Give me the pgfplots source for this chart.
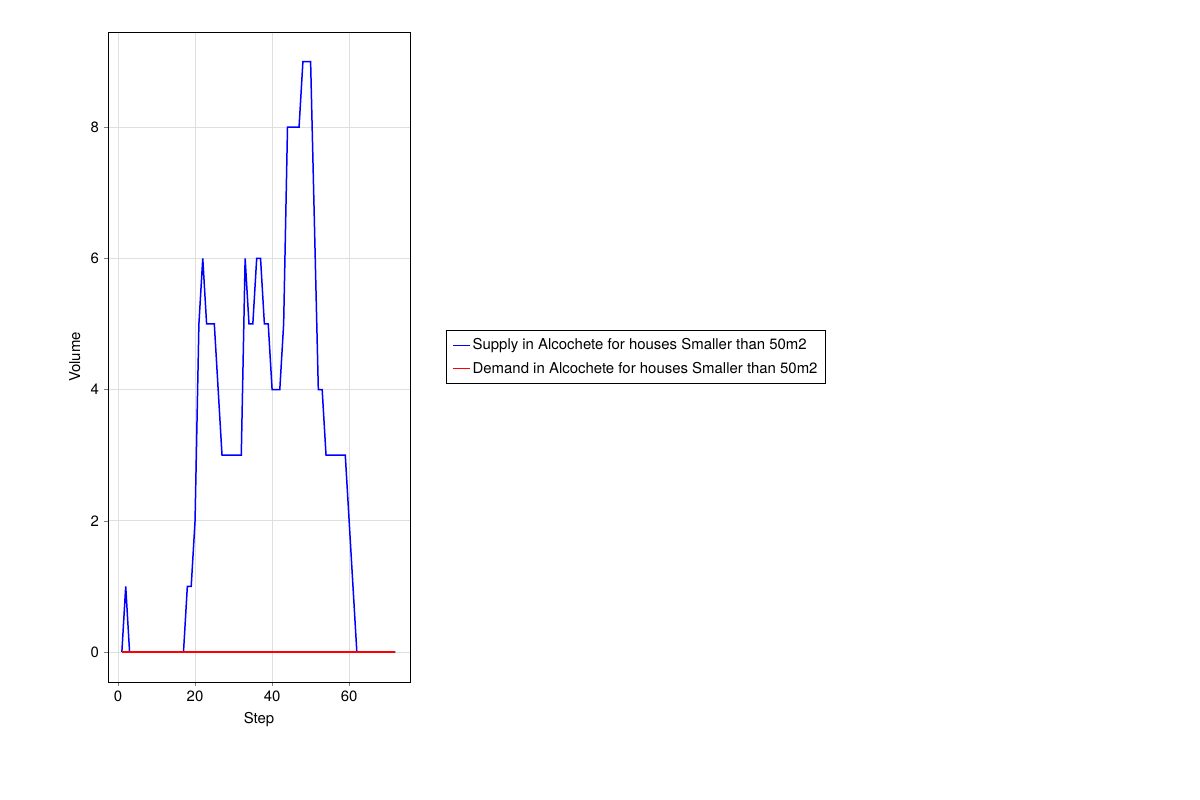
\documentclass[border=0pt]{standalone}
\usepackage{pgfplots}
\pgfplotsset{compat=1.18}
\usepackage{fontspec}
\setmainfont{TeX Gyre Heros}
\begin{document}
\begin{tikzpicture}
\fontsize{15}{18}\selectfont
\path[use as bounding box] (0bp,0bp) rectangle (1200bp,800bp);
\begin{axis}[at={(108bp,118bp)},anchor=south west,scale only axis,width=302bp,height=650bp,
 xmin=-2.6,xmax=75.8,ymin=-0.457,ymax=9.45,
 xtick={0,20,40,60},ytick={0,2,4,6,8},
 tick align=outside,xtick pos=bottom,ytick pos=left,
 major tick length=4bp,
 grid=major,grid style={gray!25,line width=0.8pt},
 /pgf/number format/assume math mode=true,
 ticklabel style={font=\fontsize{15}{18}\selectfont},
 label style={font=\fontsize{15}{18}\selectfont},
 xlabel={Step},ylabel={Volume},
 legend style={at={(1.119,0.5)},anchor=west,font=\fontsize{15}{18}\selectfont,
   inner xsep=6bp,inner ysep=6bp,row sep=6bp},
 legend cell align=left,
]
\addplot[color=blue,line width=1.5pt] coordinates {
(1,0)(2,1)(3,0)(4,0)(5,0)(6,0)(7,0)(8,0)(9,0)(10,0)(11,0)(12,0)(13,0)(14,0)(15,0)(16,0)(17,0)
(18,1)(19,1)(20,2)(21,5)(22,6)(23,5)(24,5)(25,5)(26,4)(27,3)(28,3)(29,3)(30,3)(31,3)(32,3)
(33,6)(34,5)(35,5)(36,6)(37,6)(38,5)(39,5)(40,4)(41,4)(42,4)(43,5)(44,8)(45,8)(46,8)(47,8)
(48,9)(49,9)(50,9)(51,6.5)(52,4)(53,4)(54,3)(55,3)(56,3)(57,3)(58,3)(59,3)(60,2)(61,1)(62,0)
(63,0)(64,0)(65,0)(66,0)(67,0)(68,0)(69,0)(70,0)(71,0)(72,0)};
\addlegendentry{Supply in Alcochete for houses Smaller than 50m2}
\addplot[color=red,line width=1.5pt] coordinates {(1,0)(10,0)(20,0)(30,0)(40,0)(50,0)(60,0)(72,0)};
\addlegendentry{Demand in Alcochete for houses Smaller than 50m2}
\end{axis}
\end{tikzpicture}
\end{document}
